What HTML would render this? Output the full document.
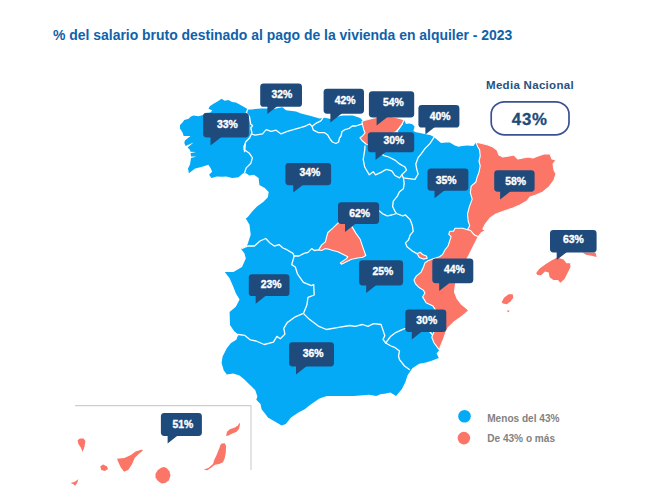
<!DOCTYPE html>
<html lang="es">
<head>
<meta charset="utf-8">
<title>% del salario bruto destinado al pago de la vivienda en alquiler - 2023</title>
<style>
html,body{margin:0;padding:0;background:#fff;}
body{width:646px;height:499px;overflow:hidden;font-family:"Liberation Sans",sans-serif;}
svg{display:block;}
.t{font-family:"Liberation Sans",sans-serif;font-weight:bold;}
</style>
</head>
<body>
<svg width="646" height="499" viewBox="0 0 646 499">
<rect width="646" height="499" fill="#ffffff"/>
<text class="t" x="53" y="40.1" font-size="13.95" fill="#0f62aa">% del salario bruto destinado al pago de la vivienda en alquiler - 2023</text>
<g id="map">
<polygon fill="#04aaf5" points="221.6,98.8 224.7,100.7 228.4,100.1 232.1,101.9 235.9,102.6 239.6,104.4 242.7,106.3 245.8,108.1 248.3,109.4 252.0,109.6 255.0,109.0 261.2,108.4 268.0,108.6 273.6,109.0 282.3,107.2 286.0,110.3 296.0,111.5 301.0,113.4 310.9,115.9 319.6,118.4 324.6,117.8 331.0,119.0 336.0,117.0 342.8,115.5 352.8,115.5 360.2,118.0 363.0,121.0 364.0,120.5 370.0,119.0 378.0,117.0 390.0,116.5 398.0,118.0 404.0,119.8 406.0,124.0 408.4,123.5 412.0,124.0 414.6,126.6 413.4,131.0 416.0,132.2 420.0,133.0 426.8,134.4 430.0,135.0 433.6,136.8 437.4,139.9 441.1,143.0 446.0,142.4 449.8,142.4 454.8,145.5 458.5,146.7 462.2,146.1 467.2,145.5 473.4,146.1 475.9,142.4 480.0,143.0 488.0,145.0 493.0,147.0 497.0,150.0 499.0,155.0 503.0,157.0 509.0,156.0 514.0,155.0 518.0,159.0 523.0,158.0 528.0,157.0 533.0,158.0 538.0,156.0 544.0,154.0 550.0,154.0 552.0,159.0 556.0,160.0 553.0,164.0 554.0,170.0 556.0,174.0 554.0,180.0 549.0,187.0 543.0,192.0 536.0,195.0 530.0,197.0 527.0,201.0 520.0,205.0 513.0,208.0 504.0,211.0 496.0,214.0 490.0,218.0 485.2,224.3 482.9,228.9 485.7,230.5 481.3,232.8 478.2,236.7 475.1,242.9 472.0,249.1 468.9,255.2 464.0,264.0 459.0,274.0 455.5,284.0 454.5,292.0 457.0,298.4 461.2,304.0 466.8,308.7 468.7,310.6 461.8,316.5 453.7,322.3 448.0,328.0 445.7,332.6 443.4,339.5 440.4,346.5 439.4,350.0 436.5,353.4 438.8,358.0 433.0,360.3 426.1,362.6 419.2,363.7 412.3,368.3 407.6,375.3 405.3,382.2 401.9,389.1 396.1,396.0 390.4,392.5 384.6,393.7 381.0,394.0 376.4,396.0 369.0,394.8 354.0,396.0 339.3,396.0 326.9,396.0 319.4,398.5 310.0,405.0 304.7,409.2 298.4,412.4 291.0,417.6 285.8,423.9 281.6,425.6 275.3,421.8 267.9,417.6 265.8,414.5 261.6,409.2 260.5,403.9 256.3,399.7 257.4,396.6 255.3,390.3 250.0,385.0 244.7,379.7 239.5,375.5 233.2,373.4 226.8,374.5 223.7,370.3 221.6,362.9 222.6,356.6 226.8,348.2 231.0,342.9 236.3,339.7 238.4,334.5 234.2,331.3 230.0,325.0 229.6,312.0 235.8,306.8 239.6,299.4 235.8,293.2 233.4,287.0 229.6,278.3 224.7,272.0 233.4,272.0 242.0,267.0 245.8,258.4 244.5,253.4 240.8,248.4 247.0,246.0 250.7,234.8 249.5,224.8 245.8,218.6 247.8,216.9 252.4,211.2 257.0,206.6 263.2,201.9 267.9,197.3 268.7,191.9 264.8,188.0 259.4,184.9 258.6,177.9 253.9,174.8 249.3,175.6 246.2,173.3 243.1,173.3 238.5,177.2 232.3,177.9 226.1,176.4 221.4,176.8 216.8,176.4 211.4,177.9 209.1,174.8 212.2,171.7 210.6,167.9 208.3,164.8 201.3,167.1 195.1,168.6 188.9,173.3 188.0,168.4 189.9,164.7 190.5,161.6 191.0,158.0 196.5,156.4 191.1,156.4 190.5,153.2 196.0,152.1 190.5,151.8 189.9,149.8 187.5,147.5 193.6,142.4 185.6,146.1 184.3,143.0 184.9,140.5 190.5,136.1 183.7,136.1 182.5,132.4 180.0,128.6 180.0,124.9 182.5,122.4 184.3,120.0 188.7,118.7 190.5,116.8 193.6,115.6 198.6,116.2 203.0,115.0 204.8,113.1 210.4,112.5 212.3,110.6 208.5,108.8 209.8,106.3 213.5,103.8 217.9,101.3"/>
<polygon fill="#fc7668" stroke="#ffffff" stroke-width="1.1" stroke-linejoin="round" points="362.4,124.0 362.0,121.5 364.0,120.5 370.0,119.0 378.0,117.0 390.0,116.5 398.0,118.0 404.0,119.8 402.2,124.0 399.0,128.5 397.0,131.0 392.0,134.0 384.0,138.0 376.0,142.0 370.0,145.5 366.0,144.0 362.0,140.5 360.0,137.8 362.4,136.0 365.0,132.8 363.7,129.7"/>
<polygon fill="#fc7668" stroke="#ffffff" stroke-width="1.1" stroke-linejoin="round" points="318.6,249.9 321.7,244.9 325.4,241.8 326.6,236.8 327.9,232.5 332.8,228.1 337.2,223.8 340.9,220.7 345.3,219.5 349.0,222.6 352.1,226.9 355.8,233.1 360.2,239.3 362.7,246.8 365.8,255.5 362.7,257.3 357.7,258.0 351.5,259.2 347.8,261.1 341.5,264.2 340.3,262.9 346.5,258.6 347.8,256.7 342.8,254.2 337.8,251.8 332.8,250.5 329.1,249.3 325.4,248.6 321.7,250.5"/>
<polygon fill="#fc7668" stroke="#ffffff" stroke-width="1.1" stroke-linejoin="round" points="475.9,142.4 480.0,143.0 488.0,145.0 493.0,147.0 497.0,150.0 499.0,155.0 503.0,157.0 509.0,156.0 514.0,155.0 518.0,159.0 523.0,158.0 528.0,157.0 533.0,158.0 538.0,156.0 544.0,154.0 550.0,154.0 552.0,159.0 556.0,160.0 553.0,164.0 554.0,170.0 556.0,174.0 554.0,180.0 549.0,187.0 543.0,192.0 536.0,195.0 530.0,197.0 527.0,201.0 520.0,205.0 513.0,208.0 504.0,211.0 496.0,214.0 490.0,218.0 485.2,224.3 482.9,228.9 485.7,230.5 481.3,232.8 478.2,236.7 474.4,235.1 470.5,230.5 467.4,229.7 469.7,225.8 468.2,221.2 467.5,214.0 469.4,206.6 472.2,199.1 470.3,192.6 471.2,186.1 475.9,182.0 477.1,177.1 479.0,172.2 480.2,166.0 479.0,161.0 480.2,156.0 479.6,149.8 477.7,146.7"/>
<polygon fill="#fc7668" stroke="#ffffff" stroke-width="1.1" stroke-linejoin="round" points="478.2,236.7 475.1,242.9 472.0,249.1 468.9,255.2 464.0,264.0 459.0,274.0 455.5,284.0 454.5,292.0 457.0,298.4 461.2,304.0 466.8,308.7 468.7,310.6 461.8,316.5 453.7,322.3 448.0,328.0 445.7,332.6 443.4,339.5 440.4,346.5 439.4,350.0 437.6,347.6 434.1,343.0 431.8,337.2 434.1,331.5 436.0,320.0 435.3,309.6 433.0,306.1 426.1,302.7 422.6,296.9 424.9,292.9 423.3,290.1 419.4,287.8 415.5,283.9 414.0,280.0 416.3,276.1 421.0,272.3 423.3,267.6 424.8,263.0 427.9,260.7 432.6,259.1 439.5,256.8 442.6,254.5 445.0,249.8 448.0,246.0 449.6,241.3 451.1,236.7 448.8,234.3 449.6,231.3 453.5,231.3 455.0,228.2 462.8,228.2 467.4,229.7 470.5,230.5 474.4,235.1"/>
<polygon fill="#fc7668" stroke="#ffffff" stroke-width="1.1" stroke-linejoin="round" points="417.1,253.7 420.2,252.2 422.5,254.5 426.4,256.0 427.2,258.3 423.3,259.1 419.4,257.6"/>
<g fill="none" stroke="#ffffff" stroke-width="1.3" stroke-linejoin="round" stroke-linecap="round">
<polyline points="247.7,109.4 246.4,112.5 249.5,116.8 250.8,124.3 252.6,125.5 250.8,128.0 252.0,133.0 249.5,138.0 245.8,141.7 243.9,146.7 244.6,151.6 245.4,143.1 243.9,149.3 249.3,153.2 252.4,157.8 250.9,163.2 246.2,167.9 244.7,172.5"/>
<polyline points="251.5,134.0 255.0,135.1 262.5,133.9 266.2,129.6 271.1,131.4 276.1,130.2 281.1,133.9 287.3,131.4 296.0,128.9 304.7,126.4 309.7,124.0 312.1,126.4 313.4,130.2 318.4,132.7 324.6,132.7 327.5,134.7 330.0,139.0 332.4,142.0 336.0,143.5 338.6,142.0 339.5,138.0 341.0,136.0 342.0,131.5 344.8,129.7 349.0,128.5 352.3,126.0 356.0,126.0 359.8,124.7 362.4,124.0"/>
<polyline points="312.1,126.4 315.9,123.3 320.8,120.9 322.7,118.4"/>
<polyline points="365.0,146.0 364.7,150.0 363.2,159.3 364.7,167.0 369.3,174.8 373.2,171.7 375.5,174.8 381.0,172.4 386.4,169.3 391.8,170.9 394.9,175.5 399.5,177.9 401.9,174.8 406.5,170.1 405.0,167.0 399.5,163.9 394.9,160.1 388.7,157.0 383.3,155.4 380.0,150.0 376.0,142.0"/>
<polyline points="434.3,136.8 429.9,143.6 424.9,148.6 421.2,153.9 418.1,157.7 415.8,163.9 416.6,168.6 418.1,174.0 415.0,179.4 408.8,178.6 403.4,177.9 401.9,174.8"/>
<polyline points="402.2,124.0 399.0,128.5 397.0,131.0 398.0,136.0 395.0,142.0 392.0,150.0"/>
<polyline points="403.4,177.9 404.2,183.3 403.4,188.7 399.5,191.8 397.2,196.4 393.3,201.1 392.6,206.5 394.9,211.1 396.4,213.5 402.6,215.8 405.5,215.0 410.1,219.6 412.4,225.8 413.2,231.3 410.1,235.1 408.6,239.8 405.5,242.9 407.0,246.7 411.7,250.6 415.5,252.9 417.1,253.7"/>
<polyline points="396.4,213.5 391.8,215.0 387.2,215.8 383.3,214.2 379.4,211.1 374.0,210.0 368.0,212.0 362.0,215.0 356.0,218.5 352.0,221.0 346.0,220.0"/>
<polyline points="242.0,248.4 248.0,246.0 254.5,246.0 260.0,241.0 265.7,238.5 270.0,243.0 274.3,246.0 279.3,244.7 283.0,248.0 286.8,249.7 293.0,253.4 294.2,256.0 299.0,256.0 304.0,253.4 308.0,252.4 311.7,248.6 314.2,250.5 318.6,249.9"/>
<polyline points="294.2,256.0 291.7,264.6 295.3,267.0 297.6,274.2 303.4,282.3 311.4,285.7 313.7,284.6 314.2,295.0 308.0,297.3 306.8,305.3 303.4,313.4"/>
<polyline points="238.4,334.5 244.6,335.3 250.4,339.9 256.1,341.0 264.2,344.5 273.4,342.2 276.9,336.4 280.3,338.7 284.9,334.1 283.8,328.4 287.2,322.6 295.3,316.8 303.4,313.4"/>
<polyline points="303.4,313.4 309.1,319.1 318.3,326.1 326.4,329.5 340.0,327.2 349.8,325.5 355.0,326.4 362.5,324.5 368.0,326.4 373.6,323.6 381.0,324.5 383.0,330.1 384.8,335.7 383.0,339.4 385.7,343.0"/>
<polyline points="385.7,343.0 390.4,336.6 395.1,332.9 403.4,329.2 410.0,327.0 418.0,325.0 426.0,327.0 432.5,335.0"/>
<polyline points="385.7,343.0 391.0,346.0 394.5,347.3 399.5,351.0 398.5,356.0 399.5,359.7 404.5,366.0 409.4,369.6"/>
</g>
<polygon fill="#fc7668" points="536.2,273.1 539.4,268.8 545.9,264.1 551.5,260.4 557.1,257.6 563.6,259.5 566.4,263.2 570.1,263.2 570.5,266.9 567.3,273.4 564.5,279.0 560.4,282.8 558.0,280.0 553.4,280.0 549.6,277.2 548.7,272.5 545.0,271.6 541.2,275.3 537.5,274.9"/>
<polygon fill="#fc7668" points="582.2,252.4 586.0,254.8 591.5,255.7 596.6,257.0 595.5,252.4"/>
<polygon fill="#fc7668" points="501.6,302.3 504.0,297.7 508.6,294.3 512.7,294.3 513.3,297.7 510.5,301.4 506.8,304.2 503.0,303.6"/>
<polygon fill="#fc7668" points="507.1,310.3 509.6,310.7 508.6,312.2 507.5,311.8"/>
<polygon fill="#fc7668" points="77.6,440.2 79.9,438.4 83.6,438.4 85.4,441.1 84.5,446.7 82.6,451.9 80.8,447.6 78.4,443.9"/>
<polygon fill="#fc7668" points="100.3,466.2 103.1,464.4 106.8,466.2 108.1,469.0 104.9,470.9 101.2,469.9"/>
<polygon fill="#fc7668" points="70.6,482.9 74.3,482.0 78.4,479.2 77.1,482.9 75.2,485.7 73.4,484.2"/>
<polygon fill="#fc7668" points="117.0,458.8 124.4,457.9 130.9,455.1 135.6,451.4 142.1,449.5 142.7,450.8 138.4,454.2 134.7,457.9 131.9,464.4 128.2,469.9 124.1,471.8 120.7,467.2 118.5,462.5"/>
<polygon fill="#fc7668" points="161.6,467.5 164.4,467.0 166.8,468.3 169.4,471.2 170.5,475.5 169.0,480.2 165.3,482.9 161.6,483.5 157.9,481.1 155.5,477.4 155.5,473.7 157.9,469.9"/>
<polygon fill="#fc7668" points="221.7,443.6 224.8,443.3 226.1,446.1 225.8,452.3 224.8,457.9 223.0,462.2 219.2,464.1 214.9,464.7 211.1,467.8 207.4,470.3 203.7,469.7 208.7,467.8 213.0,464.1 214.3,459.7 216.7,454.8 219.2,448.5 220.5,444.8"/>
<polygon fill="#fc7668" points="226.1,436.1 227.0,431.8 229.8,429.3 234.8,427.4 237.9,425.6 239.5,422.7 240.0,424.3 239.1,428.7 236.6,431.8 232.3,433.6 228.5,435.5"/>
</g>
<path d="M75 405.6H251V470" fill="none" stroke="#cdcdcd" stroke-width="1.1"/>
<g id="labels">
<path fill="#1e4b7c" d="M210.5 134.5V145.6L224.6 134.5Z"/><rect fill="#1e4b7c" x="203.1" y="113.1" width="45.8" height="24.4" rx="3.4" ry="3.4"/><text class="t" x="227.35" y="128.0" font-size="10.4" fill="#ffffff" stroke="#ffffff" stroke-width="0.35" text-anchor="middle">33%</text>
<path fill="#1e4b7c" d="M267.4 103.8V114.0L280.4 103.8Z"/><rect fill="#1e4b7c" x="260.2" y="83.6" width="41.8" height="23.2" rx="3.4" ry="3.4"/><text class="t" x="281.90" y="97.9" font-size="10.4" fill="#ffffff" stroke="#ffffff" stroke-width="0.35" text-anchor="middle">32%</text>
<path fill="#1e4b7c" d="M293.2 182.2V192.5L306.3 182.2Z"/><rect fill="#1e4b7c" x="285.4" y="163.0" width="45.7" height="22.2" rx="3.4" ry="3.4"/><text class="t" x="309.85" y="176.4" font-size="10.4" fill="#ffffff" stroke="#ffffff" stroke-width="0.35" text-anchor="middle">34%</text>
<path fill="#1e4b7c" d="M330.4 110.7V122.4L345.3 110.7Z"/><rect fill="#1e4b7c" x="323.6" y="88.8" width="40.4" height="24.9" rx="3.4" ry="3.4"/><text class="t" x="345.05" y="103.7" font-size="10.4" fill="#ffffff" stroke="#ffffff" stroke-width="0.35" text-anchor="middle">42%</text>
<path fill="#1e4b7c" d="M376.6 114.5V125.6L390.7 114.5Z"/><rect fill="#1e4b7c" x="368.9" y="91.2" width="45.3" height="26.3" rx="3.4" ry="3.4"/><text class="t" x="393.35" y="105.9" font-size="10.4" fill="#ffffff" stroke="#ffffff" stroke-width="0.35" text-anchor="middle">54%</text>
<path fill="#1e4b7c" d="M425.4 124.6V134.5L438.0 124.6Z"/><rect fill="#1e4b7c" x="418.4" y="105.1" width="41.0" height="22.5" rx="3.4" ry="3.4"/><text class="t" x="440.05" y="120.3" font-size="10.4" fill="#ffffff" stroke="#ffffff" stroke-width="0.35" text-anchor="middle">40%</text>
<path fill="#1e4b7c" d="M375.5 149.3V160.1L389.2 149.3Z"/><rect fill="#1e4b7c" x="367.8" y="132.2" width="46.4" height="20.1" rx="3.4" ry="3.4"/><text class="t" x="393.80" y="144.1" font-size="10.4" fill="#ffffff" stroke="#ffffff" stroke-width="0.35" text-anchor="middle">30%</text>
<path fill="#1e4b7c" d="M434.5 187.7V198.2L447.8 187.7Z"/><rect fill="#1e4b7c" x="427.5" y="168.4" width="40.9" height="22.3" rx="3.4" ry="3.4"/><text class="t" x="446.05" y="183.8" font-size="10.4" fill="#ffffff" stroke="#ffffff" stroke-width="0.35" text-anchor="middle">35%</text>
<path fill="#1e4b7c" d="M500.1 188.7V199.5L513.8 188.7Z"/><rect fill="#1e4b7c" x="494.2" y="170.2" width="40.4" height="21.5" rx="3.4" ry="3.4"/><text class="t" x="515.55" y="184.8" font-size="10.4" fill="#ffffff" stroke="#ffffff" stroke-width="0.35" text-anchor="middle">58%</text>
<path fill="#1e4b7c" d="M345.0 220.9V232.0L359.1 220.9Z"/><rect fill="#1e4b7c" x="338.0" y="202.2" width="41.1" height="21.7" rx="3.4" ry="3.4"/><text class="t" x="359.55" y="216.6" font-size="10.4" fill="#ffffff" stroke="#ffffff" stroke-width="0.35" text-anchor="middle">62%</text>
<path fill="#1e4b7c" d="M366.2 282.4V292.9L379.5 282.4Z"/><rect fill="#1e4b7c" x="359.1" y="260.2" width="44.0" height="25.2" rx="3.4" ry="3.4"/><text class="t" x="382.95" y="274.6" font-size="10.4" fill="#ffffff" stroke="#ffffff" stroke-width="0.35" text-anchor="middle">25%</text>
<path fill="#1e4b7c" d="M439.2 280.2V291.0L452.9 280.2Z"/><rect fill="#1e4b7c" x="432.3" y="258.4" width="41.0" height="24.8" rx="3.4" ry="3.4"/><text class="t" x="454.35" y="273.3" font-size="10.4" fill="#ffffff" stroke="#ffffff" stroke-width="0.35" text-anchor="middle">44%</text>
<path fill="#1e4b7c" d="M556.7 249.4V260.0L570.2 249.4Z"/><rect fill="#1e4b7c" x="550.0" y="230.0" width="46.6" height="22.4" rx="3.4" ry="3.4"/><text class="t" x="573.45" y="243.1" font-size="10.4" fill="#ffffff" stroke="#ffffff" stroke-width="0.35" text-anchor="middle">63%</text>
<path fill="#1e4b7c" d="M255.7 293.1V303.7L269.2 293.1Z"/><rect fill="#1e4b7c" x="248.8" y="274.2" width="40.7" height="21.9" rx="3.4" ry="3.4"/><text class="t" x="271.10" y="287.6" font-size="10.4" fill="#ffffff" stroke="#ffffff" stroke-width="0.35" text-anchor="middle">23%</text>
<path fill="#1e4b7c" d="M411.8 329.0V339.4L425.0 329.0Z"/><rect fill="#1e4b7c" x="405.3" y="309.6" width="41.0" height="22.4" rx="3.4" ry="3.4"/><text class="t" x="426.75" y="324.2" font-size="10.4" fill="#ffffff" stroke="#ffffff" stroke-width="0.35" text-anchor="middle">30%</text>
<path fill="#1e4b7c" d="M296.0 363.4V374.4L310.0 363.4Z"/><rect fill="#1e4b7c" x="289.1" y="342.2" width="44.9" height="24.2" rx="3.4" ry="3.4"/><text class="t" x="313.05" y="356.5" font-size="10.4" fill="#ffffff" stroke="#ffffff" stroke-width="0.35" text-anchor="middle">36%</text>
<path fill="#1e4b7c" d="M167.6 433.0V443.5L180.9 433.0Z"/><rect fill="#1e4b7c" x="160.9" y="413.0" width="41.0" height="23.0" rx="3.4" ry="3.4"/><text class="t" x="182.80" y="427.7" font-size="10.4" fill="#ffffff" stroke="#ffffff" stroke-width="0.35" text-anchor="middle">51%</text>
</g>
<text class="t" x="530" y="89.4" font-size="11.5" letter-spacing="0.3" fill="#27527f" text-anchor="middle">Media Nacional</text>
<rect x="491.2" y="101.8" width="77.8" height="33" rx="13.5" ry="12.5" fill="#ffffff" stroke="#3b5192" stroke-width="1.7"/>
<text class="t" x="529.8" y="125.3" font-size="16.8" letter-spacing="0.8" fill="#204b79" stroke="#204b79" stroke-width="0.3" text-anchor="middle">43%</text>
<circle cx="464.5" cy="416.3" r="6.3" fill="#04aaf5"/>
<circle cx="463.9" cy="438.1" r="6.3" fill="#fc7668"/>
<text class="t" x="487.2" y="421.9" font-size="10.1" fill="#828282">Menos del 43%</text>
<text class="t" x="487.2" y="442.4" font-size="10.1" fill="#828282">De 43% o más</text>
</svg>
</body>
</html>
